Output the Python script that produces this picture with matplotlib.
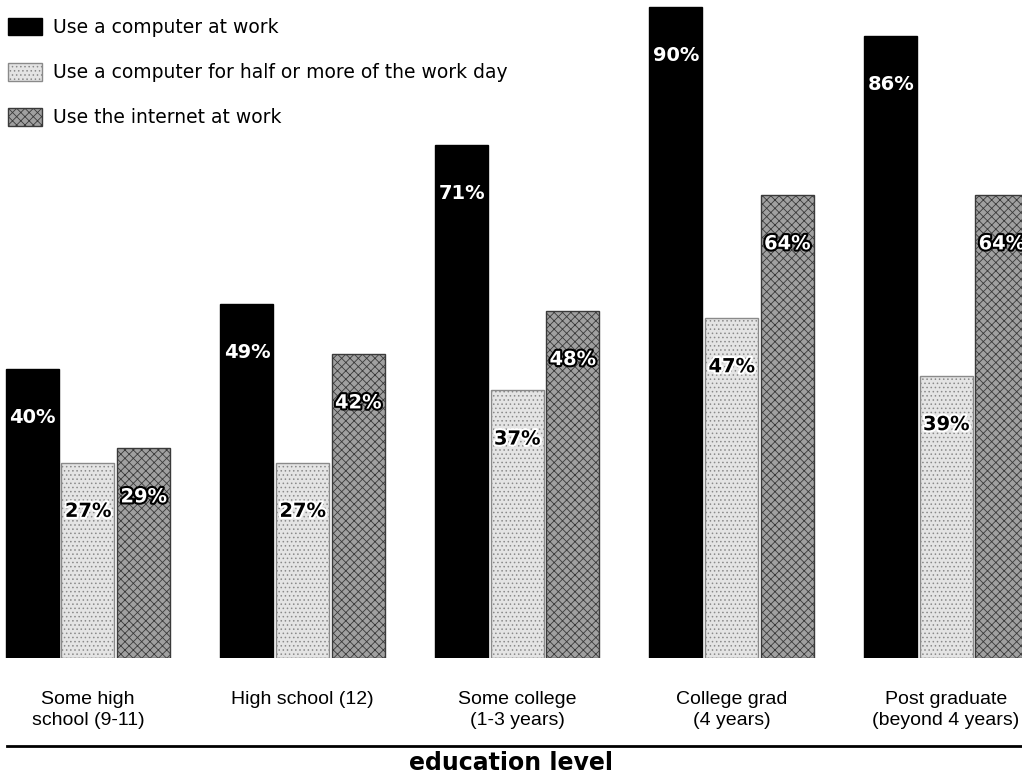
import matplotlib
matplotlib.use("Agg")
import matplotlib.pyplot as plt
import numpy as np
from matplotlib.patches import Patch
import matplotlib.patheffects as pe

categories = ["Some high\nschool (9-11)", "High school (12)", "Some college\n(1-3 years)",
              "College grad\n(4 years)", "Post graduate\n(beyond 4 years)"]
series_names = ["Use a computer at work",
                "Use a computer for half or more of the work day",
                "Use the internet at work"]
computer = [40, 49, 71, 90, 86]
half_day = [27, 27, 37, 47, 39]
internet = [29, 42, 48, 64, 64]

fig = plt.figure(figsize=(10.22, 7.75), dpi=100)
ax = fig.add_axes([0, 0.151, 1, 0.849])

x = np.arange(len(categories))
w = 0.247
step = 0.259

plt.rcParams['hatch.linewidth'] = 0.6
styles = [
    dict(facecolor="#000000", edgecolor="#000000", hatch=None),
    dict(facecolor="#e4e4e4", edgecolor="#8a8a8a", hatch="...."),
    dict(facecolor="#a0a0a0", edgecolor="#3a3a3a", hatch="xxxx"),
]
data = [computer, half_day, internet]

for k, vals in enumerate(data):
    st = styles[k]
    bars = ax.bar(x + (k - 1) * step, vals, width=w, facecolor=st["facecolor"],
                  edgecolor=st["edgecolor"], hatch=st["hatch"], linewidth=1.0,
                  label=series_names[k])
    for b, v in zip(bars, vals):
        if k == 0:
            color, outline = "white", None
        elif k == 1:
            color, outline = "black", "white"
        else:
            color, outline = "white", "black"
        t = ax.annotate(f"{v}%", xy=(b.get_x(), v), xytext=(2.5, -35),
                        textcoords="offset points", ha="left", va="center",
                        fontsize=14, fontweight="bold", color=color,
                        family="DejaVu Sans", annotation_clip=False)
        if outline:
            t.set_path_effects([pe.withStroke(linewidth=3, foreground=outline)])

ax.set_xlim(-0.41, 4.354)
ax.set_ylim(0, 91.0)
ax.axis("off")

# category labels
for xi, c in zip(x, categories):
    fig.text((xi + 0.41) / 4.764, 1 - 691 / 775, c, ha="center", va="top",
             fontsize=14, family="Liberation Sans", linespacing=1.28)

# rule line and title
fig.add_artist(plt.Line2D([0.007, 1], [1 - 746 / 775] * 2, color="black", linewidth=2))
fig.text(0.5, 1 - 763 / 775, "education level", ha="center", va="center",
         fontsize=17, fontweight="bold", family="DejaVu Sans")

handles = [Patch(facecolor=s["facecolor"], edgecolor=s["edgecolor"], hatch=s["hatch"])
           for s in styles]
ax.legend(handles, series_names, loc="upper left", bbox_to_anchor=(0.008, 0.977),
          bbox_transform=fig.transFigure, frameon=False, fontsize=13.5,
          handlelength=1.8, handleheight=1.07, handletextpad=0.6, labelspacing=1.38,
          borderaxespad=0, borderpad=0)

fig.savefig("out.png", dpi=100)
